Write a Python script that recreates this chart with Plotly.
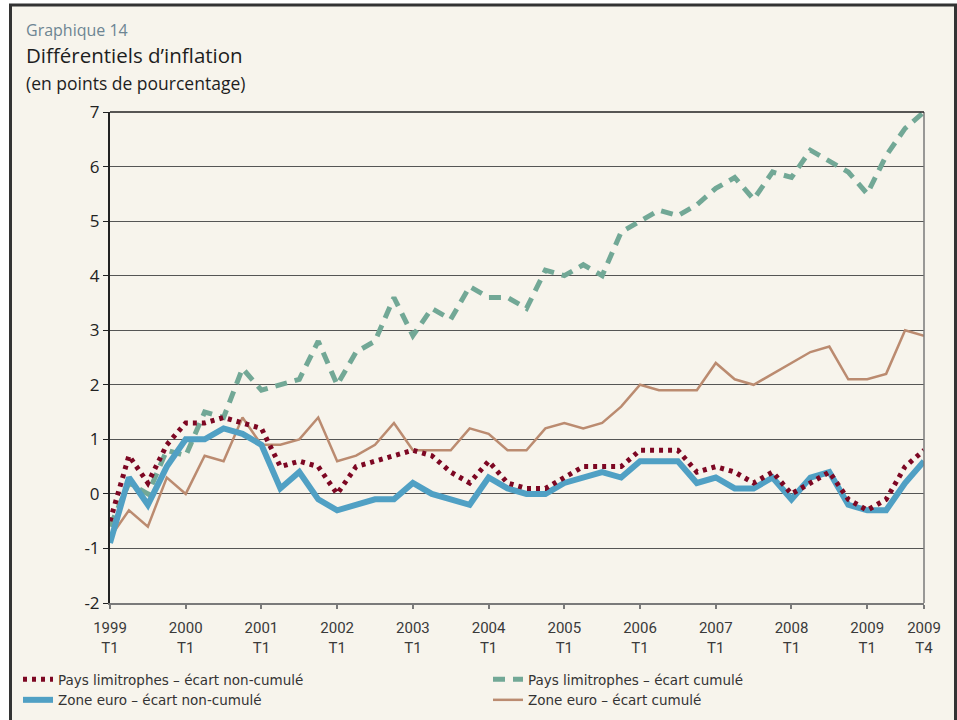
import plotly.graph_objects as go

quarters = list(range(44))
tick_positions = [0, 4, 8, 12, 16, 20, 24, 28, 32, 36, 40, 43]
tick_labels = ["1999<br>T1", "2000<br>T1", "2001<br>T1", "2002<br>T1", "2003<br>T1", "2004<br>T1",
               "2005<br>T1", "2006<br>T1", "2007<br>T1", "2008<br>T1", "2009<br>T1", "2009<br>T4"]
y_ticks = [-2, -1, 0, 1, 2, 3, 4, 5, 6, 7]
y_tick_labels = ["-2", "-1", "0", "1", "2", "3", "4", "5", "6", "7"]

pays_non_cumule = [-0.5, 0.7, 0.2, 0.9, 1.3, 1.3, 1.4, 1.3, 1.2, 0.5, 0.6, 0.5,
                   0.0, 0.5, 0.6, 0.7, 0.8, 0.7, 0.4, 0.2, 0.6, 0.2, 0.1, 0.1,
                   0.3, 0.5, 0.5, 0.5, 0.8, 0.8, 0.8, 0.4, 0.5, 0.4, 0.2, 0.4,
                   0.0, 0.2, 0.4, -0.1, -0.3, -0.1, 0.5, 0.8]
zone_non_cumule = [-0.9, 0.3, -0.2, 0.5, 1.0, 1.0, 1.2, 1.1, 0.9, 0.1, 0.4, -0.1,
                   -0.3, -0.2, -0.1, -0.1, 0.2, 0.0, -0.1, -0.2, 0.3, 0.1, 0.0, 0.0,
                   0.2, 0.3, 0.4, 0.3, 0.6, 0.6, 0.6, 0.2, 0.3, 0.1, 0.1, 0.3,
                   -0.1, 0.3, 0.4, -0.2, -0.3, -0.3, 0.2, 0.6]
pays_cumule = [-0.6, 0.2, 0.0, 0.8, 0.7, 1.5, 1.4, 2.3, 1.9, 2.0, 2.1, 2.8,
               2.0, 2.6, 2.8, 3.6, 2.9, 3.4, 3.2, 3.8, 3.6, 3.6, 3.4, 4.1,
               4.0, 4.2, 4.0, 4.8, 5.0, 5.2, 5.1, 5.3, 5.6, 5.8, 5.4, 5.9,
               5.8, 6.3, 6.1, 5.9, 5.5, 6.2, 6.7, 7.0]
zone_cumule = [-0.8, -0.3, -0.6, 0.3, 0.0, 0.7, 0.6, 1.4, 0.9, 0.9, 1.0, 1.4,
               0.6, 0.7, 0.9, 1.3, 0.8, 0.8, 0.8, 1.2, 1.1, 0.8, 0.8, 1.2,
               1.3, 1.2, 1.3, 1.6, 2.0, 1.9, 1.9, 1.9, 2.4, 2.1, 2.0, 2.2,
               2.4, 2.6, 2.7, 2.1, 2.1, 2.2, 3.0, 2.9]

CREAM = "#f7f4ec"
FONT = "Open Sans"

fig = go.Figure()
fig.add_trace(go.Scatter(x=quarters, y=zone_cumule, mode="lines", name="Zone euro – écart cumulé",
                         line=dict(color="#bb8b70", width=2.5), legend="legend2", legendrank=2))
fig.add_trace(go.Scatter(x=quarters, y=pays_cumule, mode="lines", name="Pays limitrophes – écart cumulé",
                         line=dict(color="#72a896", width=5, dash="12px,8px"), legend="legend2", legendrank=1))
fig.add_trace(go.Scatter(x=quarters, y=zone_non_cumule, mode="lines", name="Zone euro – écart non-cumulé",
                         line=dict(color="#50a0c4", width=6), legend="legend", legendrank=2))
fig.add_trace(go.Scatter(x=quarters, y=pays_non_cumule, mode="lines", name="Pays limitrophes – écart non-cumulé",
                         line=dict(color="#7d0723", width=5, dash="4px,5px"), legend="legend", legendrank=1))

L, R, T, B = 110, 33, 112, 117
W, H = 957, 720
pw, ph = W - L - R, H - T - B

def px_x(p):
    return (p - L) / pw

def px_y(p):
    return (H - B - p) / ph

legend_style = dict(orientation="v", xanchor="left", yanchor="top", bgcolor="rgba(0,0,0,0)",
                    font=dict(family="DejaVu Sans", size=13.5, color="#333333"), tracegroupgap=0,
                    traceorder="normal", itemwidth=30)

fig.update_layout(
    width=W, height=H,
    margin=dict(l=L, r=R, t=T, b=B, autoexpand=False),
    paper_bgcolor="white",
    plot_bgcolor=CREAM,
    font=dict(family=FONT, color="#222222"),
    showlegend=True,
    legend=dict(x=px_x(18), y=px_y(664), **legend_style),
    legend2=dict(x=px_x(488), y=px_y(664), **legend_style),
    xaxis=dict(range=[0, 43], tickvals=tick_positions, ticktext=tick_labels,
               showgrid=False, zeroline=False, showline=True, linecolor="#7a7a7a", linewidth=2,
               ticks="outside", ticklen=4, tickcolor="#7a7a7a", tickwidth=1.5, ticklabelstandoff=6,
               tickfont=dict(family="Roboto", size=15, color="#3a3a3a")),
    yaxis=dict(range=[-2, 7], tickvals=y_ticks, ticktext=y_tick_labels, showgrid=True,
               gridcolor="#555555", gridwidth=1.3,
               zeroline=False, showline=True, linecolor="#222222", linewidth=2,
               ticks="outside", ticklen=5, tickcolor="#222222",
               tickfont=dict(family=FONT, size=17, color="#222222")),
    shapes=[
        dict(type="rect", xref="paper", yref="paper", x0=px_x(10.5), x1=px_x(955.5), y0=px_y(5), y1=px_y(730),
             line=dict(color="#333333", width=3), fillcolor=CREAM, layer="below"),
        dict(type="line", xref="paper", yref="paper", x0=1, x1=1, y0=0, y1=1,
             line=dict(color="#7a7a7a", width=1.5)),
        dict(type="line", xref="paper", yref="paper", x0=0, x1=1, y0=1, y1=1,
             line=dict(color="#222222", width=1.5)),
    ],
    annotations=[
        dict(text="Graphique 14", xref="paper", yref="paper", x=px_x(24), y=px_y(30), xanchor="left",
             yanchor="middle", showarrow=False, font=dict(family=FONT, size=16, color="#6d8593")),
        dict(text="Différentiels d’inflation", xref="paper", yref="paper", x=px_x(24), y=px_y(55),
             xanchor="left", yanchor="middle", showarrow=False, font=dict(family=FONT, size=20.5, color="#1e1e1e")),
        dict(text="(en points de pourcentage)", xref="paper", yref="paper", x=px_x(24), y=px_y(83),
             xanchor="left", yanchor="middle", showarrow=False, font=dict(family=FONT, size=17.5, color="#1e1e1e")),
    ],
)

fig.write_html("out.html", config={"displayModeBar": False},
               post_script="document.body.style.margin='0px';")
